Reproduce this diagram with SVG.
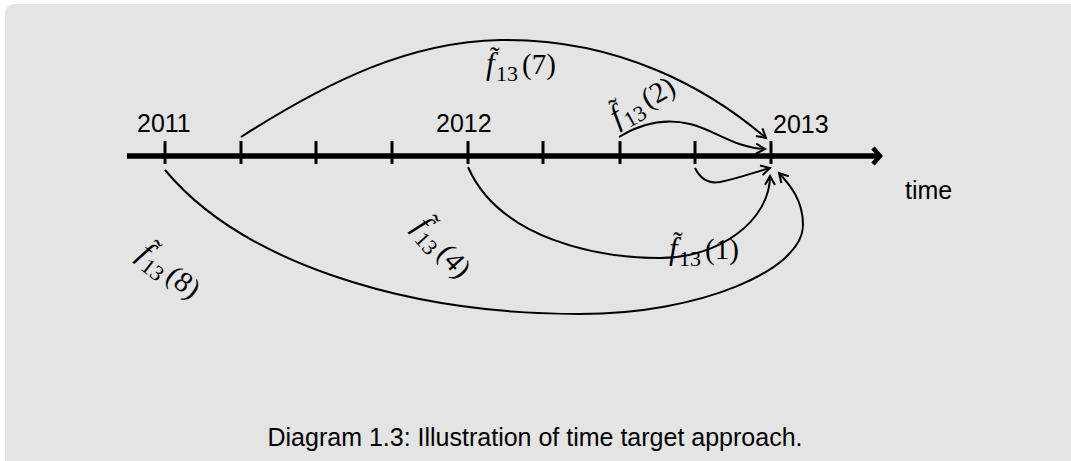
<svg xmlns="http://www.w3.org/2000/svg" width="1071" height="461" viewBox="0 0 1071 461">
<style>
.t{font-family:"Liberation Sans",Arial,sans-serif;font-size:25px;fill:#000}
.m{font-family:"Liberation Serif","Times New Roman",serif;font-size:29px;fill:#000}
.fi{font-style:italic;font-size:31px}
.sub{font-size:22px}
.c{fill:none;stroke:#000;stroke-width:2}
.tick{stroke:#000;stroke-width:3}
</style>
<defs>
<marker id="ah" markerUnits="userSpaceOnUse" markerWidth="14" markerHeight="14" refX="9" refY="5" orient="auto" overflow="visible">
<path d="M0,0 L9,5 L0,10" fill="none" stroke="#000" stroke-width="2"/>
</marker>
</defs>
<rect x="0" y="0" width="1071" height="461" fill="#fff"/>
<rect x="5" y="4" width="1080" height="470" rx="9" fill="#e4e4e4"/>
<g id="axis">
<line x1="127" y1="156" x2="879" y2="156" stroke="#000" stroke-width="5.5"/>
<path d="M873,148 L880,156 L873,164" fill="none" stroke="#000" stroke-width="4.5"/>
<g class="tick">
<line x1="165" y1="141" x2="165" y2="164"/>
<line x1="241" y1="141" x2="241" y2="164"/>
<line x1="316" y1="141" x2="316" y2="164"/>
<line x1="392" y1="141" x2="392" y2="164"/>
<line x1="468" y1="141" x2="468" y2="164"/>
<line x1="543" y1="141" x2="543" y2="164"/>
<line x1="620" y1="141" x2="620" y2="164"/>
<line x1="695" y1="141" x2="695" y2="164"/>
<line x1="771" y1="141" x2="771" y2="164"/>
</g>
</g>
<g id="y2011"><text class="t" x="137" y="132">2011</text></g>
<g id="y2012"><text class="t" x="436" y="132">2012</text></g>
<g id="y2013"><text class="t" x="773" y="133">2013</text></g>
<g id="time"><text class="t" x="905" y="199">time</text></g>
<g id="connectors">
<path id="c7" class="c" marker-end="url(#ah)" d="M241,137 C330,80 410,42 500,40 C620,38 710,90 766,138"/>
<path id="c2" class="c" marker-end="url(#ah)" d="M619,137 C640,124 665,118 690,124 C715,130 735,148 765,149"/>
<path id="c1" class="c" marker-end="url(#ah)" d="M695,168 C700,178 708,184 720,182 C740,178 755,172 770,168"/>
<path id="c4" class="c" marker-end="url(#ah)" d="M468,167 C500,240 600,258 660,258 C720,258 770,220 770,176"/>
<path id="c8" class="c" marker-end="url(#ah)" d="M165,170 C240,260 400,314 580,314 C700,314 803,270 803,225 C803,200 790,185 779,173"/>
</g>
<g id="l7" transform="translate(486,74)"><text class="m"><tspan class="fi">f</tspan><tspan x="4" dy="-7">˜</tspan><tspan class="sub" x="10" dy="14">13</tspan><tspan x="36" dy="-7">(7)</tspan></text></g>
<g id="l2" transform="translate(617,127) rotate(-30)"><text class="m"><tspan class="fi">f</tspan><tspan x="4" dy="-7">˜</tspan><tspan class="sub" x="10" dy="14">13</tspan><tspan x="36" dy="-7">(2)</tspan></text></g>
<g id="l4" transform="translate(412,228) rotate(48)"><text class="m"><tspan class="fi">f</tspan><tspan x="4" dy="-7">˜</tspan><tspan class="sub" x="10" dy="14">13</tspan><tspan x="36" dy="-7">(4)</tspan></text></g>
<g id="l8" transform="translate(136,257) rotate(38)"><text class="m"><tspan class="fi">f</tspan><tspan x="4" dy="-7">˜</tspan><tspan class="sub" x="10" dy="14">13</tspan><tspan x="36" dy="-7">(8)</tspan></text></g>
<g id="l1" transform="translate(669,259)"><text class="m"><tspan class="fi">f</tspan><tspan x="4" dy="-7">˜</tspan><tspan class="sub" x="10" dy="14">13</tspan><tspan x="36" dy="-7">(1)</tspan></text></g>
<g id="caption"><text class="t" x="535" y="446" text-anchor="middle">Diagram 1.3: Illustration of time target approach.</text></g>
</svg>
